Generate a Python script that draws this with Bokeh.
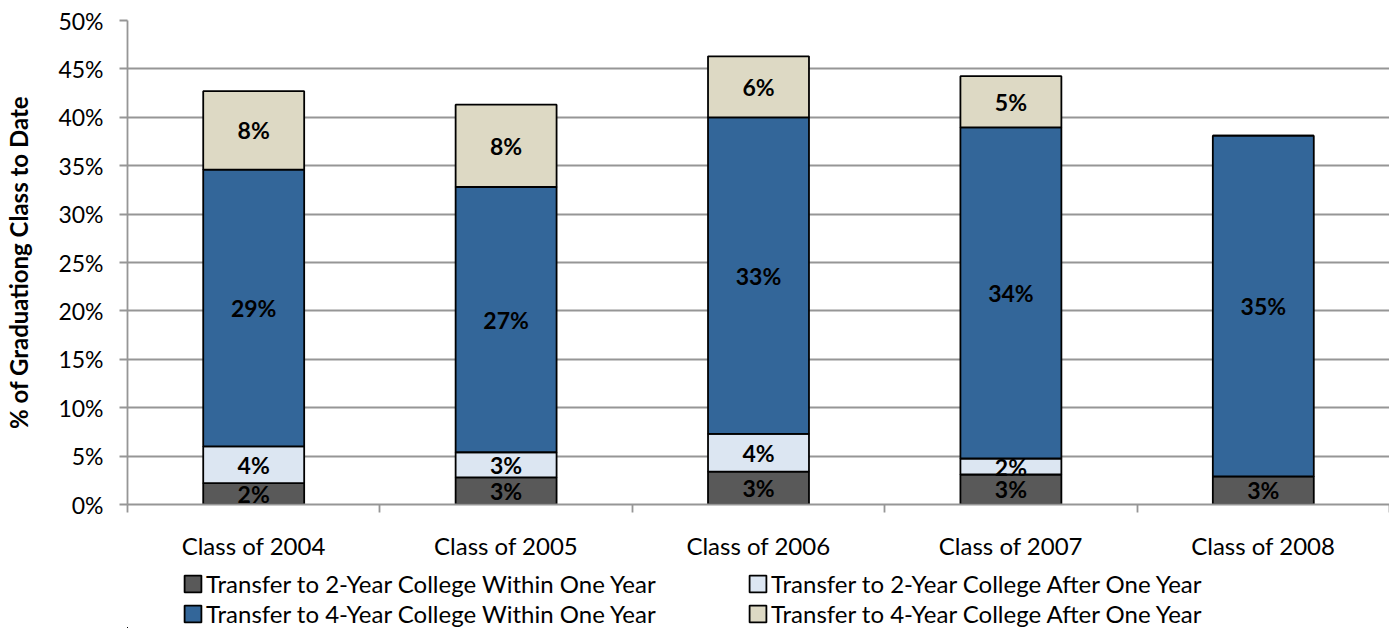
from bokeh.plotting import figure
from bokeh.layouts import column
from bokeh.models import (Range1d, FixedTicker, LinearAxis, Legend, LegendItem,
                          ColumnDataSource)
from bokeh.core.properties import value
from bokeh.embed import file_html
from bokeh.resources import INLINE

categories = ["Class of 2004", "Class of 2005", "Class of 2006", "Class of 2007", "Class of 2008"]
two_year_within = [2.2, 2.8, 3.4, 3.1, 2.9]
two_year_after = [3.8, 2.6, 3.9, 1.65, 0.0]
four_year_within = [28.6, 27.4, 32.7, 34.2, 35.2]
four_year_after = [8.1, 8.5, 6.3, 5.3, 0.0]
series_names = ["Transfer to 2-Year College Within One Year",
                "Transfer to 2-Year College After One Year",
                "Transfer to 4-Year College Within One Year",
                "Transfer to 4-Year College After One Year"]
series_keys = ["tw", "ta", "fw", "fa"]
series_colors = ["#595959", "#DCE6F2", "#336699", "#DDD9C4"]
y_ticks = [0, 5, 10, 15, 20, 25, 30, 35, 40, 45, 50]
y_tick_labels = ["0%", "5%", "10%", "15%", "20%", "25%", "30%", "35%", "40%", "45%", "50%"]

FONT = "Lato"
GRID = "#969696"
n = len(categories)
xs = [i + 0.5 for i in range(n)]
series_vals = [two_year_within, two_year_after, four_year_within, four_year_after]

src = ColumnDataSource(dict(x=xs, tw=two_year_within, ta=two_year_after,
                            fw=four_year_within, fa=four_year_after))

p = figure(frame_width=1262, frame_height=484, x_range=Range1d(0, n), y_range=Range1d(0, 50),
           output_backend="svg", toolbar_location=None,
           min_border_left=127, min_border_top=20, min_border_right=0, min_border_bottom=66)
p.outline_line_color = None
p.background_fill_color = "white"
p.border_fill_color = "white"

p.vbar_stack(series_keys, x="x", width=0.4, source=src,
             fill_color=series_colors, line_color="black", line_width=1.8)

# segment labels
lx, ly, lt = [], [], []
for i in range(n):
    base = 0.0
    for vals in series_vals:
        v = vals[i]
        if v > 0:
            lx.append(xs[i]); ly.append(base + v / 2); lt.append(f"{round(v)}%")
        base += v
p.text(x=lx, y=ly, text=lt, text_font=value(FONT), text_font_style="bold",
       text_font_size="23px", text_align="center", text_baseline="middle",
       text_color="black")

# y axis
p.yaxis.ticker = FixedTicker(ticks=y_ticks)
p.yaxis.major_label_overrides = {t: l for t, l in zip(y_ticks, y_tick_labels)}
p.yaxis.axis_label = "% of Graduationg Class to Date"
p.yaxis.axis_label_text_font = FONT
p.yaxis.axis_label_text_font_style = "bold"
p.yaxis.axis_label_text_font_size = "24px"
p.yaxis.axis_label_text_color = "black"
p.yaxis.axis_label_standoff = 22
p.yaxis.major_label_text_font = FONT
p.yaxis.major_label_text_font_size = "23px"
p.yaxis.major_label_text_color = "black"
p.yaxis.major_label_standoff = 16
p.yaxis.axis_line_color = GRID
p.yaxis.axis_line_width = 1.8
p.yaxis.major_tick_line_color = GRID
p.yaxis.major_tick_line_width = 1.8
p.yaxis.major_tick_in = 0
p.yaxis.major_tick_out = 8
p.yaxis.minor_tick_line_color = None

p.ygrid.ticker = FixedTicker(ticks=y_ticks)
p.ygrid.grid_line_color = GRID
p.ygrid.grid_line_width = 1.8
p.xgrid.grid_line_color = None

# x axis: tick marks between categories
xa = p.xaxis[0]
xa.ticker = FixedTicker(ticks=list(range(n + 1)))
xa.major_label_overrides = {i: "" for i in range(n + 1)}
xa.major_label_text_font_size = "1px"
xa.major_label_standoff = 0
xa.axis_line_color = GRID
xa.axis_line_width = 1.8
xa.major_tick_line_color = GRID
xa.major_tick_line_width = 1.8
xa.major_tick_in = 0
xa.major_tick_out = 8
xa.minor_tick_line_color = None

# category labels
ca = LinearAxis(ticker=FixedTicker(ticks=xs),
                major_label_overrides={x: c for x, c in zip(xs, categories)})
ca.axis_line_color = None
ca.major_tick_line_color = None
ca.minor_tick_line_color = None
ca.major_label_text_font = FONT
ca.major_label_text_font_size = "24px"
ca.major_label_text_color = "black"
ca.major_label_standoff = 12
p.add_layout(ca, "below")

# legend strip below the chart: key renderers use the same data but sit outside
# this strip's visible range, so only their legend swatches appear
lg = figure(width=1389, height=58, x_range=Range1d(100, 101), y_range=Range1d(100, 101),
            x_axis_type=None, y_axis_type=None, output_backend="svg", toolbar_location=None,
            min_border_left=0, min_border_right=0, min_border_top=0, min_border_bottom=0)
lg.outline_line_color = None
lg.grid.visible = False
keys = lg.vbar_stack(series_keys, x="x", width=0.4, source=src,
                     fill_color=series_colors, line_color="black", line_width=1.8)
order = [0, 2, 1, 3]  # column-major: within-one-year column, then after-one-year column
items = [LegendItem(label=series_names[k], renderers=[keys[k]]) for k in order]
legend = Legend(items=items, orientation="vertical", ncols=2, location=(55, 0),
                label_text_font=FONT, label_text_font_size="24px", label_text_color="black",
                glyph_width=21, glyph_height=21, label_standoff=3, spacing=1,
                padding=0, margin=0, border_line_color=None, background_fill_alpha=0,
                label_height=26, label_width=540)
lg.add_layout(legend, "center")

open("out.html", "w").write(file_html(column(p, lg, spacing=0), INLINE))
